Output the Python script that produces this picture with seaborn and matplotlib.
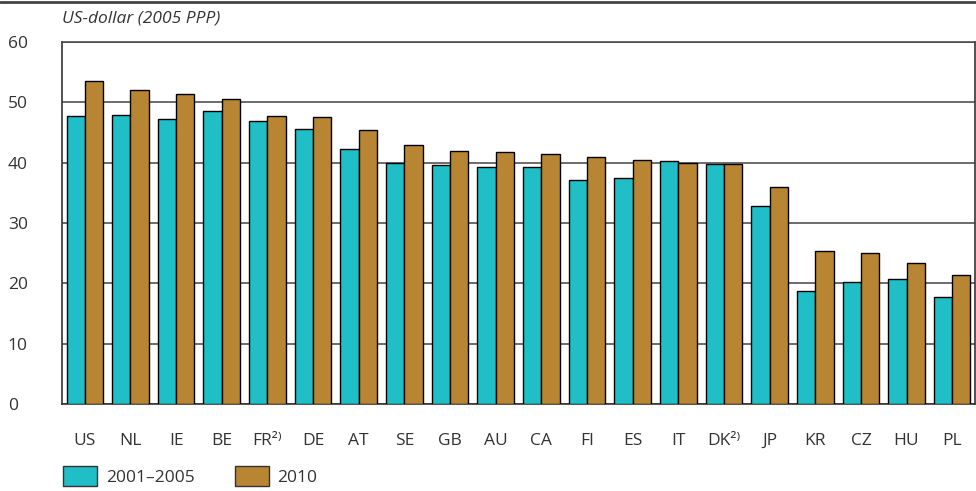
import pandas as pd
import numpy as np
import matplotlib.pyplot as plt
import seaborn as sns

# countries and values
countries = ['US', 'NL', 'IE', 'BE', 'FR²⁾', 'DE', 'AT', 'SE', 'GB', 'AU',
             'CA', 'FI', 'ES', 'IT', 'DK²⁾', 'JP', 'KR', 'CZ', 'HU', 'PL']
vals_2001_2005 = [47.7, 47.9, 47.2, 48.6, 46.9, 45.5, 42.2, 40.0, 39.6, 39.3,
                  39.3, 37.2, 37.4, 40.2, 39.8, 32.8, 18.7, 20.3, 20.7, 17.7]
vals_2010 = [53.6, 52.0, 51.4, 50.6, 47.7, 47.6, 45.4, 42.9, 41.9, 41.8,
             41.4, 40.9, 40.4, 39.9, 39.7, 35.9, 25.4, 25.0, 23.3, 21.4]
periods = ['2001–2005', '2010']
colors = ['#20BEC6', '#B88533']

df = pd.DataFrame({
    'country': countries * 2,
    'value': vals_2001_2005 + vals_2010,
    'period': [periods[0]] * len(countries) + [periods[1]] * len(countries),
})

sns.set_style('white')
plt.rcParams['font.family'] = ['Open Sans', 'DejaVu Sans']
txt = '#333333'
fs = 12.5

fig = plt.figure(figsize=(9.76, 4.91), dpi=100)
ax = fig.add_axes([0.0635, 0.1772, 0.9355, 0.7373])

sns.barplot(data=df, x='country', y='value', hue='period', palette=colors, saturation=1,
            edgecolor='black', linewidth=1, width=0.8, ax=ax, legend=False, zorder=3)

ax.set_ylim(0, 60)
ax.set_xlim(-0.5, len(countries) - 0.5)
ax.set_yticks(range(0, 61, 10))
ax.yaxis.grid(True, color='#444444', linewidth=1.1, zorder=0)
ax.set_axisbelow(True)
ax.tick_params(axis='y', length=0, pad=39, labelsize=fs, labelcolor=txt)
for lab in ax.get_yticklabels():
    lab.set_horizontalalignment('left')
ax.tick_params(axis='x', which='major', length=0, pad=21, labelsize=fs, labelcolor=txt)
ax.set_xticks(np.arange(-0.5, len(countries), 1), minor=True)
ax.tick_params(axis='x', which='minor', length=8, width=1, color='#555555', direction='out')
ax.set_xlabel('')
ax.set_ylabel('')

for side in ['left', 'right', 'bottom']:
    ax.spines[side].set_visible(True)
    ax.spines[side].set_color('#333333')
    ax.spines[side].set_linewidth(1.2)
ax.spines['top'].set_visible(True)
ax.spines['top'].set_color('#444444')
ax.spines['top'].set_linewidth(1.1)

ax.text(0.0, 1.066, 'US-dollar (2005 PPP)', transform=ax.transAxes, fontsize=fs,
        style='italic', color=txt, ha='left', va='center')

# dark rule across the top of the figure
fig.add_artist(plt.Line2D([0, 1], [0.996, 0.996], color='#444444', linewidth=2))

handles = [plt.Rectangle((0, 0), 1, 1, facecolor=c, edgecolor='#333333', linewidth=1) for c in colors]
fig.legend(handles, periods, loc='lower left', bbox_to_anchor=(0.049, -0.022), ncol=2,
           frameon=False, fontsize=fs, handlelength=1.95, handleheight=1.45,
           columnspacing=2.3, handletextpad=0.5, labelcolor=txt)

fig.savefig('out.png', dpi=100)
